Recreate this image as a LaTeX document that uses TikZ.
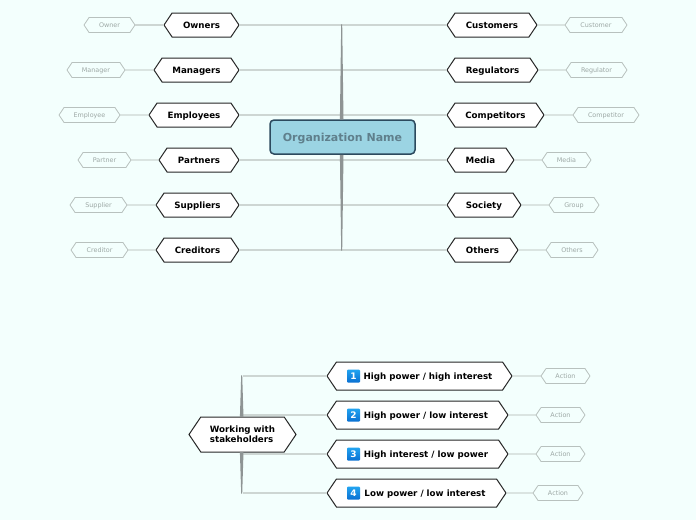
\documentclass[tikz,border=0pt]{standalone}
\usepackage{fontspec}
\setmainfont{DejaVu Sans}
\usetikzlibrary{shapes.symbols,calc}
\definecolor{paper}{HTML}{F3FFFD}
\definecolor{branch}{HTML}{CDD6D3}
\definecolor{trunk}{HTML}{8E9494}
\definecolor{leaftext}{HTML}{9DA8A5}
\definecolor{orgfill}{HTML}{9BD4E3}
\definecolor{orgline}{HTML}{2C4A5E}
\definecolor{orgtext}{HTML}{5F7F8C}
\definecolor{badgetop}{HTML}{22A4F0}
\definecolor{badgelow}{HTML}{0A70D2}
\tikzset{
	hex/.style={shape=signal,signal to=east and west,signal from=nowhere,signal pointer angle=112,
		draw=black!85,line width=1pt,fill=white,inner sep=0pt,outer sep=0pt,font=\fontsize{8.7}{10}\selectfont\bfseries,align=left},
	main/.style={hex,minimum height=24pt,text height=7.8pt,text depth=.4pt},
	wide/.style={hex,minimum height=28pt,text height=7.8pt,text depth=.4pt},
	leaf/.style={hex,draw=branch!90!black,line width=.8pt,fill=paper,text=leaftext,minimum height=15pt,
		font=\fontsize{6.4}{8}\selectfont,text height=5.4pt,text depth=.6pt},
	badge/.style={rounded corners=1pt,minimum size=13pt,inner sep=0pt,top color=badgetop,bottom color=badgelow,
		text=white,font=\fontsize{9}{9}\selectfont\bfseries},
	link/.style={draw=branch,line width=1.3pt},
}
\begin{document}
\begin{tikzpicture}[x=1pt,y=-1pt]
\useasboundingbox[fill=paper] (0,0) rectangle (696,520);
% centre
\node [draw=orgline,line width=1.5pt,rounded corners=4pt,fill=orgfill,text=orgtext,text height=9.5pt,text depth=.5pt,
	minimum width=145pt,minimum height=34pt,inner sep=0pt,font=\fontsize{11}{12}\selectfont\bfseries] (org) at (342.5,137) {Organization Name};
% left side
\node [main,minimum width=75pt] (owners) at (201.5,25) {Owners};
\node [main,minimum width=85pt] (managers) at (196.5,70) {Managers};
\node [main,minimum width=90pt] (employees) at (194,115) {Employees};
\node [main,minimum width=80pt] (partners) at (199,160) {Partners};
\node [main,minimum width=83pt] (suppliers) at (197.5,205) {Suppliers};
\node [main,minimum width=83pt] (creditors) at (197.5,250) {Creditors};
\node [leaf,minimum width=51pt] (owner) at (109.5,25) {Owner};
\node [leaf,minimum width=58pt] (manager) at (96,70) {Manager};
\node [leaf,minimum width=61pt] (employee) at (89.5,115) {Employee};
\node [leaf,minimum width=53pt] (partner) at (104.5,160) {Partner};
\node [leaf,minimum width=57pt] (supplier) at (98.5,205) {Supplier};
\node [leaf,minimum width=57pt] (creditor) at (99.5,250) {Creditor};
% right side
\node [main,minimum width=90pt] (customers) at (492,25) {Customers};
\node [main,minimum width=91pt] (regulators) at (492.5,70) {Regulators};
\node [main,minimum width=97pt] (competitors) at (495.5,115) {Competitors};
\node [main,minimum width=67pt] (media) at (480.5,160) {Media};
\node [main,minimum width=74pt] (society) at (484,205) {Society};
\node [main,minimum width=71pt] (others) at (482.5,250) {Others};
\node [leaf,minimum width=62pt] (customer) at (596,25) {Customer};
\node [leaf,minimum width=61pt] (regulator) at (596.5,70) {Regulator};
\node [leaf,minimum width=66pt] (competitor) at (606,115) {Competitor};
\node [leaf,minimum width=49pt] (mediaitem) at (566.5,160) {Media};
\node [leaf,minimum width=50pt] (group) at (574,205) {Group};
\node [leaf,minimum width=52pt] (othersitem) at (572,250) {Others};
% stakeholders
\node [hex,minimum width=107pt,minimum height=35pt] (work) at (242.5,434.5) {Working with\\stakeholders\hspace{11pt}};
\node [wide,minimum width=185pt] (hh) at (419.5,376) {\hspace{17pt}High power / high interest};
\node [wide,minimum width=181pt] (hl) at (417.5,415) {\hspace{17pt}High power / low interest};
\node [wide,minimum width=181pt] (il) at (417.5,454) {\hspace{17pt}High interest / low power};
\node [wide,minimum width=179pt] (ll) at (416.5,493) {\hspace{17pt}Low power / low interest};
\node [badge] (one) at ($(hh.west)+(26.5,0)$) {1};
\node [badge] (two) at ($(hl.west)+(26.5,0)$) {2};
\node [badge] (three) at ($(il.west)+(26.5,0)$) {3};
\node [badge] (four) at ($(ll.west)+(26.5,0)$) {4};
\node [leaf,minimum width=49pt] (acta) at (565.5,376) {Action};
\node [leaf,minimum width=49pt] (actb) at (560.5,415) {Action};
\node [leaf,minimum width=49pt] (actc) at (560.5,454) {Action};
\node [leaf,minimum width=50pt] (actd) at (558,493) {Action};
% branches
\draw [link] (owners.east) -- (owners.east -| org.north);
\draw [link] (managers.east) -- (managers.east -| org.north);
\draw [link] (employees.east) -- (employees.east -| org.north);
\draw [link] (partners.east) -- (partners.east -| org.south);
\draw [link] (suppliers.east) -- (suppliers.east -| org.south);
\draw [link] (creditors.east) -- (creditors.east -| org.south);
\draw [link] (customers.west) -- (customers.west -| org.north);
\draw [link] (regulators.west) -- (regulators.west -| org.north);
\draw [link] (competitors.west) -- (competitors.west -| org.north);
\draw [link] (media.west) -- (media.west -| org.south);
\draw [link] (society.west) -- (society.west -| org.south);
\draw [link] (others.west) -- (others.west -| org.south);
\draw [link] (hh.west) -- (hh.west -| work.north);
\draw [link] (hl.west) -- (hl.west -| work.north);
\draw [link] (il.west) -- (il.west -| work.south);
\draw [link] (ll.west) -- (ll.west -| work.south);
\draw [link] (owner) -- (owners);
\draw [link] (manager) -- (managers);
\draw [link] (employee) -- (employees);
\draw [link] (partner) -- (partners);
\draw [link] (supplier) -- (suppliers);
\draw [link] (creditor) -- (creditors);
\draw [link] (customers) -- (customer);
\draw [link] (regulators) -- (regulator);
\draw [link] (competitors) -- (competitor);
\draw [link] (media) -- (mediaitem);
\draw [link] (society) -- (group);
\draw [link] (others) -- (othersitem);
\draw [link] (hh) -- (acta);
\draw [link] (hl) -- (actb);
\draw [link] (il) -- (actc);
\draw [link] (ll) -- (actd);
% trunks
\fill [trunk] ($(org.north)+(-2.6,0)$) -- ($(org.north)+(1,0)$) -- ($(org.north |- owners.east)+(-.3,-.6)$) -- ($(org.north |- owners.east)+(-1.3,-.6)$) -- cycle;
\fill [trunk] ($(org.south)+(-2.6,0)$) -- ($(org.south)+(1,0)$) -- ($(org.south |- creditors.east)+(-.3,.6)$) -- ($(org.south |- creditors.east)+(-1.3,.6)$) -- cycle;
\fill [trunk] ($(work.north)+(-2.6,0)$) -- ($(work.north)+(1,0)$) -- ($(work.north |- hh.west)+(-.3,-.6)$) -- ($(work.north |- hh.west)+(-1.3,-.6)$) -- cycle;
\fill [trunk] ($(work.south)+(-2.6,0)$) -- ($(work.south)+(1,0)$) -- ($(work.south |- ll.west)+(-.3,.6)$) -- ($(work.south |- ll.west)+(-1.3,.6)$) -- cycle;
\end{tikzpicture}
\end{document}
